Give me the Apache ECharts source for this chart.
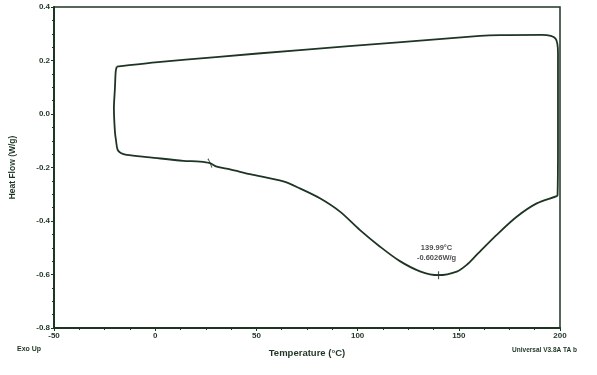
<!DOCTYPE html>
<html><head><meta charset="utf-8">
<script src="https://cdn.jsdelivr.net/npm/echarts@6/dist/echarts.min.js"></script>
<style>html,body{margin:0;padding:0;background:#fff}#c{width:597px;height:375px}</style>
</head><body><div id="c"></div>
<script>
// Temperature (°C) and heat flow (W/g) along the DSC loop
const temps = [-19.0, 0.0, 30.0, 71.5, 120.0, 160.5, 170.4, 191.0, 195.5, 197.8, 198.7, 199.0, 199.0, 199.0, 198.8,
  198.4, 188.5, 178.6, 168.7, 158.8, 153.9, 149.0, 139.99, 130.8, 120.9, 111.1, 101.2, 91.3, 81.4, 71.5, 63.3, 46.8, 37.0, 30.4,
  27.1, 22.1, 13.9, -2.6, -14.1, -17.0, -18.6, -19.4, -19.9, -20.4, -19.9, -19.5, -19.0];
const heatFlow = [0.177, 0.193, 0.213, 0.239, 0.268, 0.292, 0.295, 0.296, 0.292, 0.282, 0.262, 0.228, 0.052, -0.135, -0.303,
  -0.307, -0.334, -0.384, -0.452, -0.527, -0.564, -0.589, -0.6026, -0.588, -0.550, -0.496, -0.434, -0.365, -0.315, -0.278, -0.252, -0.225, -0.207, -0.197,
  -0.184, -0.178, -0.175, -0.162, -0.153, -0.146, -0.133, -0.097, -0.066, 0.021, 0.096, 0.160, 0.177];
const xTicks = [-50, 0, 50, 100, 150, 200];
const yTicks = [-0.8, -0.6, -0.4, -0.2, 0.0, 0.2, 0.4];
const peak = {t: 139.99, h: -0.6026, label: ['139.99°C', '-0.6026W/g']};
const onset = {t: 27.1, h: -0.184};

const C = '#1e3524';
const chart = echarts.init(document.getElementById('c'));
const lineData = temps.map((t, i) => [t, heatFlow[i]]);
const txt = {fontFamily: 'Liberation Sans, Arial', fontWeight: 'bold', color: C};
chart.setOption({
  animation: false,
  grid: {left: 54, right: 37, top: 7, bottom: 47, show: true, borderColor: C, borderWidth: 1.5},
  xAxis: {type: 'value', min: xTicks[0], max: xTicks[xTicks.length - 1], interval: 50,
    axisLine: {onZero: false, lineStyle: {color: C, width: 2}}, axisTick: {show: true, length: 3, lineStyle: {color: C}},
    minorTick: {show: true, splitNumber: 4, length: 2, lineStyle: {color: C}},
    splitLine: {show: false},
    axisLabel: Object.assign({fontSize: 8, margin: 4}, txt),
    name: 'Temperature (°C)', nameLocation: 'middle', nameGap: 20,
    nameTextStyle: Object.assign({fontSize: 9.5}, txt)},
  yAxis: {type: 'value', min: yTicks[0], max: yTicks[yTicks.length - 1], interval: 0.2,
    axisLine: {show: true, onZero: false, lineStyle: {color: C, width: 2}}, axisTick: {show: true, length: 3, lineStyle: {color: C}},
    minorTick: {show: true, splitNumber: 4, length: 2, lineStyle: {color: C}},
    splitLine: {show: false},
    axisLabel: Object.assign({fontSize: 8, margin: 4, formatter: v => v.toFixed(1)}, txt),
    name: 'Heat Flow (W/g)', nameLocation: 'middle', nameGap: 37,
    nameTextStyle: Object.assign({fontSize: 8.5}, txt)},
  graphic: [
    {type: 'text', left: 17, top: 346, style: {text: 'Exo Up', fontSize: 7, fontWeight: 'bold', fontFamily: 'Liberation Sans', fill: C}},
    {type: 'text', right: 20, top: 347, style: {text: 'Universal V3.8A TA b', fontSize: 6.5, fontWeight: 'bold', fontFamily: 'Liberation Sans', fill: C}}
  ],
  series: [
    {type: 'line', data: lineData, smooth: 0.3, showSymbol: false, lineStyle: {color: C, width: 1.8}, z: 2},
    {type: 'scatter', data: [[peak.t, peak.h]], symbol: 'path://M5,0L5,10M0,5L10,5', symbolSize: 8,
      itemStyle: {color: 'none', borderColor: C, borderWidth: 1.2},
      label: {show: true, position: 'top', distance: 6, offset: [-2, 0], formatter: peak.label.join('\n'), fontSize: 7.5,
        lineHeight: 10, align: 'center', fontFamily: 'Liberation Sans', fontWeight: 'bold', color: '#222'}, z: 3},
    {type: 'scatter', data: [[onset.t, onset.h]], symbol: 'path://M0,0L4,10', symbolSize: [4, 9],
      itemStyle: {color: 'none', borderColor: C, borderWidth: 1.2}, z: 3}
  ]
});
</script></body></html>
